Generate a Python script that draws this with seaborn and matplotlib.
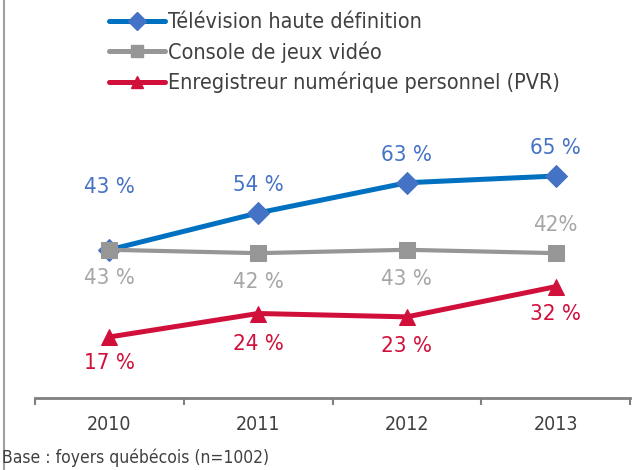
import matplotlib
matplotlib.use("Agg")
import matplotlib.pyplot as plt
from matplotlib.lines import Line2D
from matplotlib.ticker import FixedLocator
import numpy as np
import pandas as pd
import seaborn as sns

# données
years = ["2010", "2011", "2012", "2013"]
series = ["Télévision haute définition", "Console de jeux vidéo",
          "Enregistreur numérique personnel (PVR)"]
tv_hd = [43, 54, 63, 65]
console = [43, 42, 43, 42]
pvr = [17, 24, 23, 32]
tv_labels = ["43 %", "54 %", "63 %", "65 %"]
console_labels = ["43 %", "42 %", "43 %", "42%"]
pvr_labels = ["17 %", "24 %", "23 %", "32 %"]

rows = []
for name, vals in zip(series, [tv_hd, console, pvr]):
    for i, v in enumerate(vals):
        rows.append({"serie": name, "x": i, "valeur": v})
df = pd.DataFrame(rows)

sns.set_style("white")
plt.rcParams["font.family"] = ["DejaVu Sans"]
plt.rcParams["font.stretch"] = "condensed"

line_colors = ["#0070C0", "#969696", "#D0103A"]
marker_colors = ["#4472C4", "#969696", "#D0103A"]
label_colors = ["#4472C4", "#A6A6A6", "#D0103A"]
markers = ["D", "s", "^"]
text_color = "#404040"

fig = plt.figure(figsize=(6.32, 4.70), dpi=100)
ax = fig.add_axes([35 / 632, 1 - 398 / 470, 595 / 632, 398 / 470])

sns.lineplot(data=df, x="x", y="valeur", hue="serie", style="serie",
             palette=dict(zip(series, line_colors)),
             markers=dict(zip(series, markers)), dashes=False,
             linewidth=3.6, markersize=12, ax=ax, legend=False)

# couleur des marqueurs
for line, mc in zip(ax.lines, marker_colors):
    line.set_markerfacecolor(mc)
    line.set_markeredgecolor(mc)
ax.lines[0].set_markersize(11)
ax.lines[1].set_linewidth(3)
ax.lines[2].set_markersize(11)

# étiquettes de données (décalage vertical en points)
offsets = [[45, 20, 20, 20], [-20, -21, -21, 20], [-19, -22, -21, -20]]
for vals, labs, col, offs in zip([tv_hd, console, pvr],
                                 [tv_labels, console_labels, pvr_labels],
                                 label_colors, offsets):
    for i, (v, lab, o) in enumerate(zip(vals, labs, offs)):
        ax.annotate(lab, (i, v), xytext=(0, o), textcoords="offset points",
                    ha="center", va="center", fontsize=16, color=col)

ax.set_xlim(-0.5, 3.5)
ax.set_ylim(-1.2, 117.5)
ax.set_xticks(range(len(years)))
ax.set_xticklabels(years, fontsize=14, color=text_color)
ax.xaxis.set_minor_locator(FixedLocator(np.arange(-0.5, 4, 1)))
ax.tick_params(axis="x", which="major", length=0, pad=12)
ax.tick_params(axis="x", which="minor", bottom=True, length=5, width=1.5,
               color="#808080", direction="out")
ax.set_yticks([])
ax.set_xlabel("")
ax.set_ylabel("")
for s in ["top", "right", "left"]:
    ax.spines[s].set_visible(False)
ax.spines["bottom"].set_color("#808080")
ax.spines["bottom"].set_linewidth(2)
ax.patch.set_alpha(0)

# légende
handles = [Line2D([], [], color=lc, marker=m, markerfacecolor=mc,
                  markeredgecolor=mc, markersize=9, linewidth=3.6)
           for lc, m, mc in zip(line_colors, markers, marker_colors)]
fig.legend(handles, series, loc="upper left",
           bbox_to_anchor=(92 / 632, 1 + 5 / 470), frameon=False,
           fontsize=15.5, handlelength=2.6, handletextpad=0.15,
           labelspacing=0.42, labelcolor=text_color, borderpad=0.3)

fig.text(2 / 632, 3 / 470, "Base : foyers québécois (n=1002)",
         fontsize=12.5, color=text_color, ha="left", va="bottom")

# bordure gauche
fig.add_artist(Line2D([4 / 632, 4 / 632], [0, 1], transform=fig.transFigure,
                      color="#A0A0A0", linewidth=1.5))

fig.savefig("out.png", dpi=100)
